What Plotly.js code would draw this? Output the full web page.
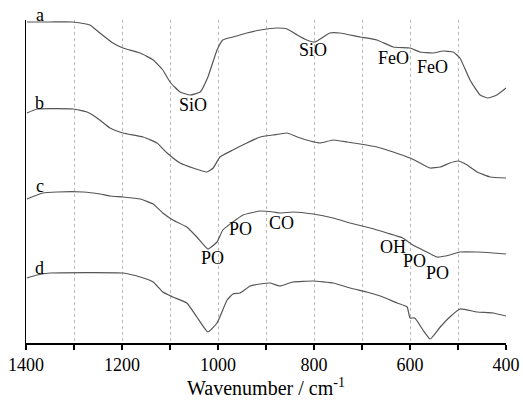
<!DOCTYPE html>
<html><head><meta charset="utf-8">
<script src="https://cdn.plot.ly/plotly-3.0.1.min.js"></script>
<style>html,body{margin:0;padding:0;background:#fff}</style>
</head><body><div id="chart" style="width:523px;height:400px"></div>
<script>
// Wavenumbers (cm^-1) and stacked intensities (arbitrary units) for each spectrum
const wnA = [1398,1350,1302,1267,1246,1219,1198,1162,1135,1115,1100,1079,1058,1037,1021,1002,990,969,940,912,877,856,835,815,798,767,746,704,669,635,600,579,552,531,510,496,475,454,438,419,400];
const valA = [321,321,321,318,310,300,295,290,283,273,261,251,248,251,266,293,303,306,310,313,315,314,308,303,301,310,310,306,303,296,295,291,290,292,291,285,263,248,245,248,255];

const wnB = [1398,1377,1302,1273,1252,1225,1198,1156,1127,1106,1079,1052,1023,1010,996,969,940,912,885,856,835,808,787,760,731,704,669,635,600,579,558,537,517,500,481,460,433,400];
const valB = [230,234,234,231,225,215,210,206,200,190,180,175,171,175,186,193,200,206,208,210,206,202,200,203,201,199,196,191,185,180,175,176,180,182,178,171,166,165];

const wnC = [1398,1365,1335,1281,1246,1225,1198,1162,1135,1115,1094,1065,1044,1021,1002,990,969,948,912,885,871,844,802,760,725,683,648,615,594,565,544,517,496,460,427,400];
const valC = [144,150,151,151,149,147,146,144,139,130,123,116,106,94,101,113,121,128,132,131,130,131,129,125,120,115,110,105,98,91,86,88,91,91,90,89];

const wnD = [1398,1377,1350,1198,1162,1135,1115,1094,1065,1044,1021,1002,981,969,954,933,912,892,871,844,802,760,725,690,662,627,606,600,590,573,558,537,517,496,460,427,400];
const valD = [65,68,70,70,66,61,51,46,40,26,11,20,43,49,50,57,59,60,57,61,62,60,55,51,47,40,36,25,25,13,4,16,26,34,31,30,27];

const curveLabels = ['a','b','c','d'];
const curveLabelY = [328,240,157,75];

const peakText = ['SiO','SiO','FeO','FeO','PO','PO','CO','OH','PO','PO'];
const peakX = [1052,802,635,554,1012,954,867,635,590,542];
const peakY = [238,293,285,276,85,114,120,96,82,70];

const tickVals = [1400,1200,1000,800,600,400];
const tickText = ['1400','1200','1000','800','600','400'];

const Y_MAX = 323;
const lineStyle = {color:'#555555', width:1.2, shape:'spline', smoothing:0.4};
const traces = [[wnA,valA],[wnB,valB],[wnC,valC],[wnD,valD]].map(p => ({
  x:p[0], y:p[1], type:'scatter', mode:'lines', line:lineStyle, hoverinfo:'skip', cliponaxis:false
}));

const FAM = 'Liberation Serif, Times New Roman, serif';
const f = (s) => ({family:FAM, size:s, color:'#000'});
const annotations = [];
curveLabels.forEach((t,i)=>annotations.push({x:1371,y:curveLabelY[i]/Y_MAX,text:t,showarrow:false,xref:'x',yref:'paper',xanchor:'center',yanchor:'middle',font:f(18)}));
peakText.forEach((t,i)=>annotations.push({x:peakX[i],y:peakY[i],text:t,showarrow:false,xref:'x',yref:'y',xanchor:'center',yanchor:'middle',font:f(18)}));

const layout = {
  width:523, height:400,
  margin:{l:26,r:17,t:20,b:57},
  paper_bgcolor:'#fff', plot_bgcolor:'#fff',
  showlegend:false,
  font:f(18),
  xaxis:{
    range:[1400,400], tickvals:tickVals, ticktext:tickText,
    ticks:'outside', ticklen:5, tickwidth:1.2, tickcolor:'#000',
    showline:true, linecolor:'#000', linewidth:1.5,
    showgrid:true, gridcolor:'#bbbbbb', gridwidth:1, griddash:'dot',
    minor:{dtick:100, ticks:'outside', ticklen:5, tickwidth:1.2, tickcolor:'#000', showgrid:true, gridcolor:'#bbbbbb', gridwidth:1, griddash:'dot'},
    zeroline:false,
    tickfont:f(18),
    title:{text:'Wavenumber / cm<sup>-1</sup>', font:f(20), standoff:4}
  },
  yaxis:{
    range:[0,Y_MAX], showticklabels:false, ticks:'', showgrid:false, zeroline:false,
    showline:true, linecolor:'#000', linewidth:1.5
  },
  annotations:annotations
};
Plotly.newPlot('chart', traces, layout, {staticPlot:true});
</script></body></html>
